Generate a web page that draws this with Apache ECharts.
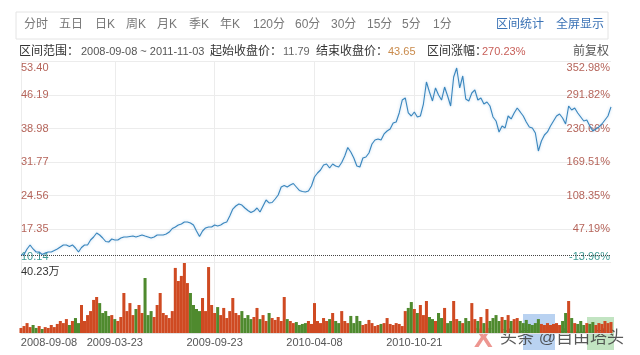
<!DOCTYPE html>
<html>
<head>
<meta charset="utf-8">
<script src="https://cdn.jsdelivr.net/npm/echarts@6/dist/echarts.min.js"></script>
<style>html,body{margin:0;padding:0;background:#fff}#c{width:640px;height:355px}</style>
</head>
<body>
<div id="c"></div>
<script>
// ---- data ----
var price = [11.79,11.86,13.05,13.91,13.05,12.40,12.40,11.86,12.18,12.40,
12.40,12.72,13.05,13.48,13.91,13.91,13.58,13.91,13.26,12.40,
13.37,13.91,13.91,14.98,15.63,16.49,16.06,15.41,14.66,14.55,
15.20,14.98,14.98,15.41,15.63,15.63,15.74,15.84,15.63,15.84,
16.06,15.84,15.63,15.41,15.63,16.06,16.06,16.06,16.27,16.70,
17.46,17.78,18.21,18.43,18.86,18.86,18.64,18.21,16.92,15.74,
16.92,17.57,17.78,17.78,18.21,18.00,18.21,18.64,18.86,20.15,
21.65,22.30,22.73,22.51,21.87,21.33,20.90,21.22,21.87,21.01,
22.30,23.59,22.95,23.05,23.81,24.67,26.39,26.71,26.39,26.82,
27.14,26.39,25.64,25.42,25.31,25.53,26.61,28.54,29.40,30.05,
31.13,31.34,30.48,31.34,30.91,30.70,31.66,33.06,34.89,33.92,
32.63,30.91,30.70,32.63,32.85,33.71,35.65,36.51,36.72,36.51,
37.80,38.44,38.87,40.17,40.38,42.32,45.11,45.55,42.32,41.67,
42.54,41.46,41.67,44.25,48.99,46.83,44.90,47.70,46.19,45.11,
47.91,45.97,43.82,50.07,52.00,47.70,50.28,45.33,44.90,46.62,
47.27,45.11,45.55,44.25,44.68,43.82,41.46,40.60,38.23,39.52,
39.09,41.67,41.03,42.32,43.39,42.54,41.67,40.38,39.31,39.09,
38.01,34.14,36.29,37.58,38.23,39.52,40.60,41.67,42.10,41.24,
39.95,43.82,42.96,43.39,42.32,41.46,40.60,40.81,39.52,38.44,
38.87,39.31,39.95,40.81,41.67,43.65];

var volume = [2.9,4.0,5.7,3.4,4.6,2.9,4.0,2.3,3.4,2.9,
4.6,3.4,5.2,6.9,5.7,8.0,4.6,6.9,8.6,5.7,
16.1,6.9,10.3,12.6,19.0,20.7,17.2,11.5,12.6,9.8,
10.3,8.0,6.9,9.2,23.0,12.6,17.2,10.3,13.8,16.1,
11.5,31.6,10.3,12.6,9.2,16.1,23.0,11.5,10.3,8.6,
12.6,37.4,29.9,32.8,40.23,28.7,23.0,16.1,13.8,12.6,
20.1,12.6,37.9,16.1,11.5,14.9,10.3,14.4,8.6,12.6,
20.1,11.5,10.3,12.6,8.6,10.3,8.0,9.2,14.4,8.0,
10.3,6.9,11.5,8.6,7.5,9.2,6.9,20.7,8.0,6.9,
5.7,6.3,4.6,5.2,5.7,6.9,5.2,17.2,6.9,5.7,
8.6,6.9,8.0,11.5,6.9,5.7,12.6,6.9,5.7,9.8,
5.7,9.8,6.9,4.6,5.2,7.5,5.7,4.0,4.6,5.2,
5.7,8.6,5.2,4.6,5.7,5.2,4.0,12.6,14.4,17.8,
13.8,11.5,16.1,10.3,18.4,9.2,8.0,6.9,11.5,8.6,
14.4,5.7,6.9,18.4,8.0,6.9,5.7,8.6,6.9,17.2,
8.0,6.9,9.2,5.7,13.8,6.9,8.6,10.3,6.9,9.2,
7.5,10.3,6.9,8.0,8.6,6.9,5.7,7.5,5.2,4.6,
5.7,8.0,5.2,4.6,5.7,4.6,5.2,5.7,4.6,6.9,
11.5,18.4,8.6,5.7,5.2,6.9,4.6,5.7,5.2,6.3,
4.6,5.7,5.2,6.9,5.7,6.3];

var dateTickIndex = [0, 31, 64, 97, 130];
var dateTickLabels = ['2008-09-08', '2009-03-23', '2009-09-23', '2010-04-08', '2010-10-21'];
var priceTicks = [10.14, 17.35, 24.56, 31.77, 38.98, 46.19, 53.40];
var pctTicks = [-13.96, 47.19, 108.35, 169.51, 230.66, 291.82, 352.98];
var startClose = 11.79;
var volMax = 40.23;

var toolbarItems = [['分时',24],['五日',59],['日K',95],['周K',126],['月K',157],['季K',189],['年K',220],
  ['120分',253],['60分',295],['30分',331],['15分',367],['5分',402],['1分',433]];
var toolbarLinks = [['区间统计',496],['全屏显示',556]];
var infoRow = [['区间范围：',19,'#333',12],['2008-09-08 ~ 2011-11-03',81,'#555',11],['起始收盘价：',210,'#333',12],
  ['11.79',283,'#666',11],['结束收盘价：',316,'#333',12],['43.65',388,'#c98a4b',11],['区间涨幅：',427,'#333',12],
  ['270.23%',482,'#c8605a',11],['前复权',573,'#555',12]];

// ---- chart ----
var FONT = '"Liberation Sans", "Noto Sans CJK SC", sans-serif';
var cats = price.map(function (_, i) { return String(i); });
var RED = '#b5645a', TEAL = '#3f9a94';
function near(a, b) { return Math.abs(a - b) < 1e-6; }
function tickShown(index) { return dateTickIndex.indexOf(index) >= 0; }

var graphics = [{
  type: 'rect', shape: { x: 16, y: 12, width: 592, height: 27 },
  style: { fill: 'none', stroke: '#e4e4e4', lineWidth: 1 }, silent: true
}];
toolbarItems.forEach(function (t) {
  graphics.push({ type: 'text', x: t[1], y: 25, style: { text: t[0], fill: '#777', fontSize: 12, fontFamily: FONT, verticalAlign: 'middle' } });
});
toolbarLinks.forEach(function (t) {
  graphics.push({ type: 'text', x: t[1], y: 25, style: { text: t[0], fill: '#3a72b5', fontSize: 12, fontFamily: FONT, verticalAlign: 'middle' } });
});
infoRow.forEach(function (t) {
  graphics.push({ type: 'text', x: t[1], y: 52, style: { text: t[0], fill: t[2], fontSize: t[3], fontFamily: FONT, verticalAlign: 'middle' } });
});
// watermark
graphics.push({ type: 'rect', shape: { x: 523, y: 314, width: 32, height: 36 }, style: { fill: 'rgba(100,155,225,0.45)' }, silent: true });
graphics.push({ type: 'rect', shape: { x: 587, y: 317, width: 27, height: 33 }, style: { fill: 'rgba(120,195,120,0.45)' }, silent: true });
graphics.push({ type: 'text', x: 474, y: 339, style: { text: 'X', fill: 'rgba(225,80,70,0.6)', fontSize: 28, fontWeight: 'bold', fontFamily: FONT, verticalAlign: 'middle' } });
graphics.push({ type: 'text', x: 500, y: 338, style: { text: '头条 @自由塔头', fill: 'rgba(60,60,60,0.85)', fontSize: 17, fontFamily: FONT, verticalAlign: 'middle' } });

var chart = echarts.init(document.getElementById('c'), null, { renderer: 'canvas' });
chart.setOption({
  animation: false,
  backgroundColor: '#fff',
  textStyle: { fontFamily: FONT },
  graphic: graphics,
  grid: [
    { left: 21, right: 29, top: 61.5, height: 201 },
    { left: 21, right: 29, top: 263, height: 70 }
  ],
  xAxis: [
    { gridIndex: 0, type: 'category', data: cats, boundaryGap: false,
      axisLine: { show: false }, axisTick: { show: false }, axisLabel: { show: false },
      splitLine: { show: true, interval: function (i) { return tickShown(i); }, lineStyle: { color: '#ececec' } } },
    { gridIndex: 1, type: 'category', data: cats, boundaryGap: false,
      axisLine: { show: true, lineStyle: { color: '#e2e2e2' } }, axisTick: { show: false },
      splitLine: { show: true, interval: function (i) { return tickShown(i); }, lineStyle: { color: '#ececec' } },
      axisLabel: { show: true, interval: function (i) { return tickShown(i); }, margin: 4,
        color: '#555', fontSize: 11, fontFamily: FONT,
        formatter: function (v, i) {
          var k = dateTickIndex.indexOf(Number(v));
          if (k < 0) return '';
          if (k === 0) return '{l|' + dateTickLabels[0] + '}';
          return dateTickLabels[k];
        },
        rich: { l: { padding: [0, 0, 0, 56], color: '#555', fontSize: 11, fontFamily: FONT } } } }
  ],
  yAxis: [
    { gridIndex: 0, type: 'value', position: 'left', min: priceTicks[0], max: priceTicks[priceTicks.length - 1],
      axisLine: { show: false }, axisTick: { show: false, customValues: priceTicks },
      splitLine: { show: true, lineStyle: { color: '#ececec' } },
      axisLabel: { inside: true, margin: 0, customValues: priceTicks, fontSize: 11, fontFamily: FONT,
        color: function (v) { return Number(v) < startClose ? TEAL : RED; },
        formatter: function (v) {
          if (near(v, priceTicks[priceTicks.length - 1])) return '{t|' + v.toFixed(2) + '}';
          if (near(v, priceTicks[0])) return '{b|' + v.toFixed(2) + '}';
          return v.toFixed(2);
        },
        rich: { t: { padding: [13, 0, 0, 0], color: RED, fontSize: 11, fontFamily: FONT },
                b: { padding: [0, 0, 12, 0], color: TEAL, fontSize: 11, fontFamily: FONT } } } },
    { gridIndex: 0, type: 'value', position: 'right', min: pctTicks[0], max: pctTicks[pctTicks.length - 1],
      axisLine: { show: false }, axisTick: { show: false, customValues: pctTicks }, splitLine: { show: false },
      axisLabel: { inside: true, margin: 1, customValues: pctTicks, fontSize: 11, fontFamily: FONT,
        color: function (v) { return Number(v) < 0 ? TEAL : RED; },
        formatter: function (v) {
          if (near(v, pctTicks[pctTicks.length - 1])) return '{t|' + v.toFixed(2) + '%}';
          if (near(v, pctTicks[0])) return '{b|' + v.toFixed(2) + '%}';
          return v.toFixed(2) + '%';
        },
        rich: { t: { padding: [13, 0, 0, 0], color: RED, fontSize: 11, fontFamily: FONT },
                b: { padding: [0, 0, 12, 0], color: TEAL, fontSize: 11, fontFamily: FONT } } } },
    { gridIndex: 1, type: 'value', min: 0, max: volMax,
      axisLine: { show: false }, axisTick: { show: false, customValues: [volMax] }, splitLine: { show: false },
      axisLabel: { inside: true, margin: 0, customValues: [volMax], fontSize: 11, fontFamily: FONT, color: '#333',
        verticalAlign: 'top', padding: [3, 0, 0, 0],
        formatter: function (v) { return v.toFixed(2) + '万'; } } }
  ],
  series: [
    { type: 'line', xAxisIndex: 0, yAxisIndex: 0, data: price, showSymbol: false, symbol: 'none',
      lineStyle: { color: '#3a86bd', width: 1.1, shadowBlur: 3, shadowColor: 'rgba(90,160,220,0.45)' },
      markLine: { silent: true, symbol: ['none', 'none'], label: { show: false },
        lineStyle: { type: 'dotted', color: '#444', width: 1 }, data: [{ yAxis: startClose }] } },
    { type: 'bar', xAxisIndex: 1, yAxisIndex: 2, data: volume, barCategoryGap: '0%',
      itemStyle: { color: function (p) {
        var i = p.dataIndex;
        return (i === 0 || price[i] >= price[i - 1]) ? '#cf4a22' : '#4f8a2e';
      } } }
  ]
});
</script>
</body>
</html>
